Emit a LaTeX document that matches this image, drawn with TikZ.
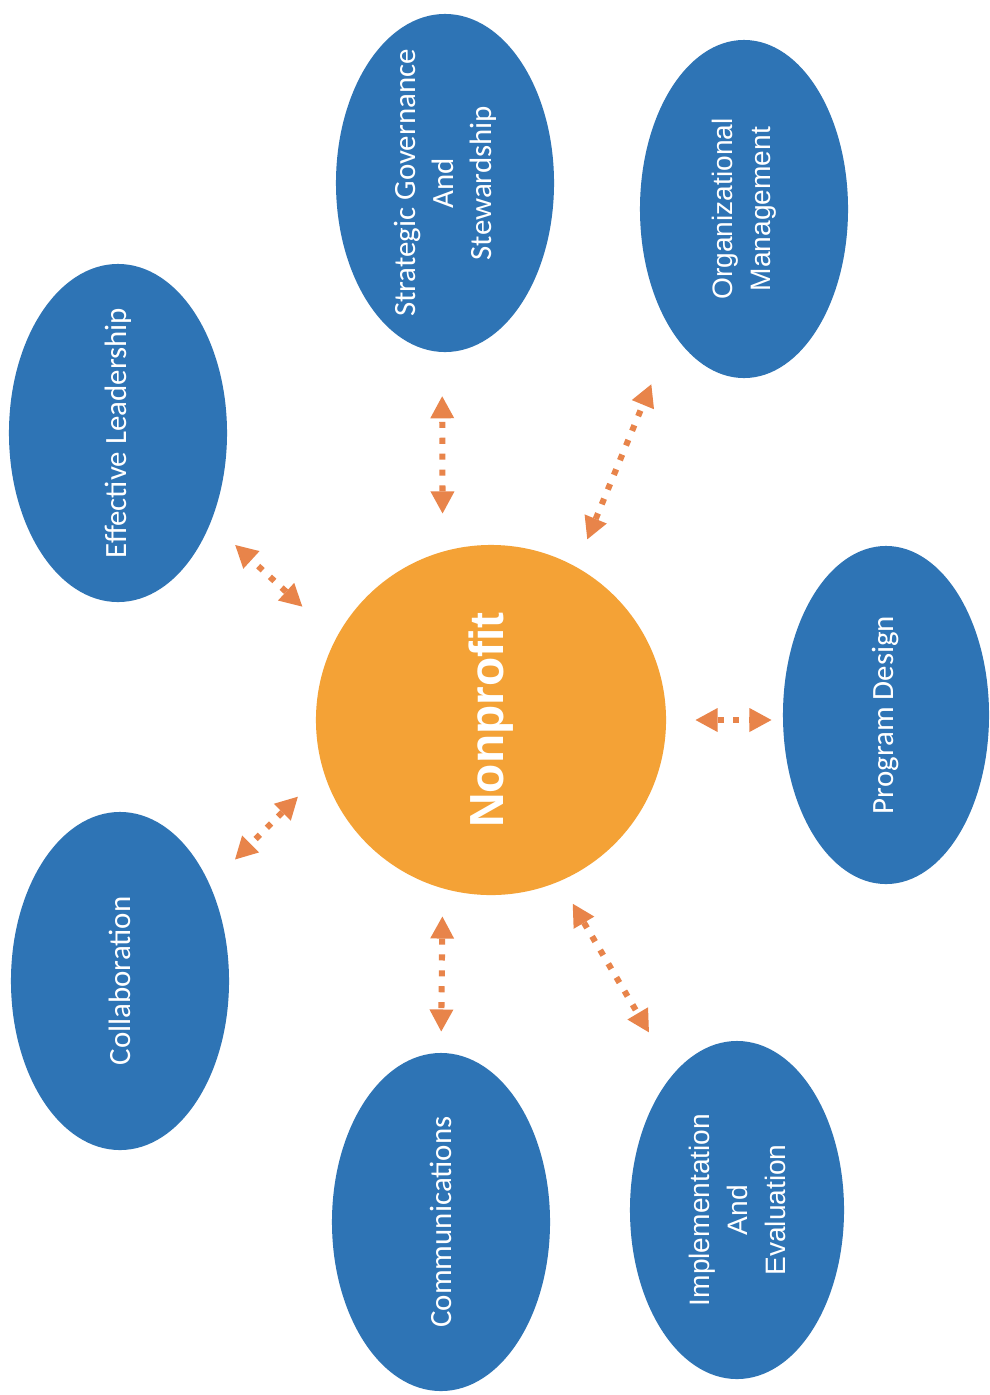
\documentclass[tikz,border=0pt]{standalone}
\usepackage{fontspec}
\setmainfont{Carlito}
\newfontfamily\arialish{Liberation Sans}
\usetikzlibrary{arrows.meta,shapes.geometric}
\definecolor{cBlob}{HTML}{2E74B5}
\definecolor{cHub}{HTML}{F4A236}
\definecolor{cLink}{HTML}{E8844A}
\tikzset{
  blob/.style     = {ellipse, fill=cBlob, inner sep=0pt,
                     minimum width=5.45cm, minimum height=8.45cm},
  blobtext/.style = {text=white, align=center, rotate=90,
                     font=\fontsize{22}{27}\selectfont},
  blobsans/.style = {blobtext, font=\arialish\fontsize{20}{27}\selectfont},
  hub/.style      = {circle, fill=cHub, inner sep=0pt, minimum size=8.75cm},
  hubtext/.style  = {text=white, rotate=90,
                     font=\arialish\bfseries\fontsize{34}{40}\selectfont},
  tip/.tip        = {Triangle[length=5.5mm, width=6mm, line width=0pt]},
  link/.style     = {tip-tip, draw=cLink, line width=4.3pt,
                     dash pattern=on 4.3pt off 7pt},
}
\begin{document}
\begin{tikzpicture}[x=0.025cm, y=-0.025cm]
  \useasboundingbox[fill=white] (0,0) rectangle (989,1395);
  % ---- hub ----
  \node[hub, label={[hubtext]center:Nonprofit}] (np) at (491,720) {};
  % ---- ring of ellipses ----
  \node[blob, label={[blobtext]center:Effective Leadership}] (el) at (118,433) {};
  \node[blob, label={[blobtext]center:{Strategic Governance\\And\\Stewardship}}]
    (sg) at (445,183) {};
  \node[blob, minimum width=5.2cm, label={[blobsans]center:{Organizational\\Management}}]
    (om) at (744,209) {};
  \node[blob, minimum width=5.15cm, label={[blobtext]center:Program Design}]
    (pd) at (886,715) {};
  \node[blob, minimum width=5.35cm, label={[blobsans]center:{Implementation\\And\\Evaluation}}]
    (ie) at (737,1210) {};
  \node[blob, label={[blobtext]center:Communications}] (cm) at (441,1222) {};
  \node[blob, label={[blobtext]center:Collaboration}] (cb) at (120,981) {};
  % ---- links ----
  \draw[link, shorten <=1.15cm, shorten >=0.83cm] (np.152.3) -- (el.-44.8);
  \draw[link, shorten <=0.95cm, shorten >=1.1cm]  (np.106.4) -- (sg.-91.4);
  \draw[link, shorten <=0.74cm, shorten >=1.4cm]  (np.61.3) -- (om.-120.7);
  \draw[link, shorten <=0.73cm, shorten >=0.28cm] (np.east) -- (np.east -| pd.west);
  \draw[link, shorten <=0.65cm, shorten >=1.2cm]  (np.-67.5) -- (ie.115.4);
  \draw[link, shorten <=0.7cm, shorten >=0.53cm]  (np.-106.4) -- (cm.90);
  \draw[link, shorten <=0.9cm, shorten >=0.89cm]  (np.-163.4) -- (cb.47.4);
\end{tikzpicture}
\end{document}
